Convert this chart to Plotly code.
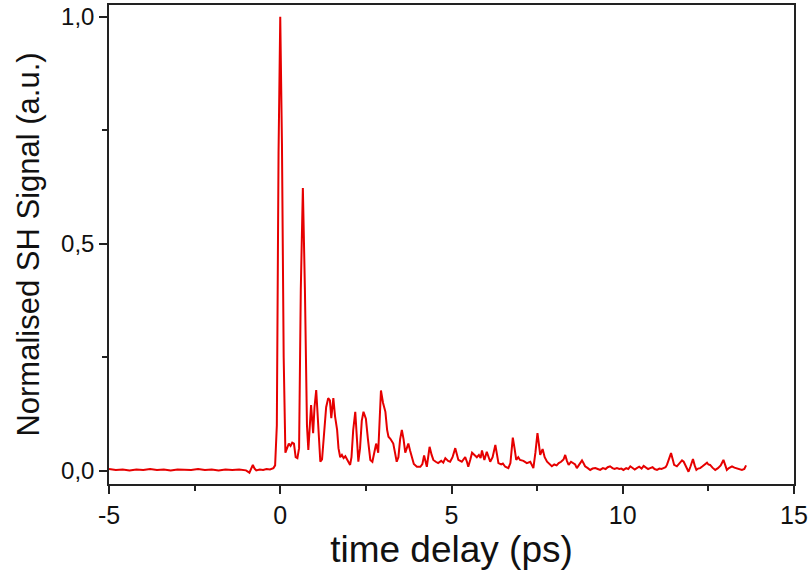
import plotly.graph_objects as go

# time delay (ps) and normalised SH signal
time_delay_ps = [
    -5.0, -4.8, -4.6, -4.4, -4.2, -4.0, -3.8, -3.6, -3.4, -3.2, -3.0, -2.8, -2.6, -2.4,
    -2.2, -2.0, -1.8, -1.6, -1.4, -1.2, -1.0, -0.9, -0.85, -0.8, -0.75, -0.7, -0.6, -0.5,
    -0.4, -0.3, -0.2, -0.15, -0.1, -0.05, 0.0, 0.05, 0.1, 0.15, 0.2, 0.25, 0.3, 0.35,
    0.4, 0.45, 0.5, 0.55, 0.6, 0.66, 0.72, 0.78, 0.82, 0.86, 0.9, 0.96, 1.0, 1.05,
    1.1, 1.17, 1.22, 1.28, 1.34, 1.4, 1.45, 1.49, 1.55, 1.6, 1.66, 1.7, 1.75, 1.8,
    1.85, 1.9, 1.95, 2.0, 2.04, 2.08, 2.13, 2.19, 2.24, 2.28, 2.33, 2.38, 2.43, 2.5,
    2.56, 2.63, 2.69, 2.75, 2.8, 2.86, 2.9, 2.94, 3.0, 3.07, 3.12, 3.16, 3.22, 3.3,
    3.35, 3.4, 3.45, 3.5, 3.55, 3.6, 3.65, 3.7, 3.74, 3.79, 3.84, 3.9, 3.99, 4.09,
    4.15, 4.2, 4.28, 4.32, 4.36, 4.42, 4.47, 4.54, 4.61, 4.7, 4.76, 4.82, 4.9, 4.96,
    5.03, 5.11, 5.16, 5.2, 5.3, 5.4, 5.45, 5.49, 5.55, 5.6, 5.67, 5.74, 5.8, 5.85,
    5.89, 5.96, 6.03, 6.08, 6.13, 6.2, 6.28, 6.33, 6.37, 6.45, 6.5, 6.57, 6.66, 6.72,
    6.79, 6.84, 6.89, 6.95, 7.0, 7.1, 7.2, 7.3, 7.39, 7.45, 7.51, 7.55, 7.59, 7.66,
    7.72, 7.79, 7.86, 7.93, 8.0, 8.07, 8.13, 8.2, 8.27, 8.32, 8.37, 8.42, 8.49, 8.56,
    8.61, 8.66, 8.74, 8.81, 8.86, 8.9, 8.98, 9.05, 9.12, 9.2, 9.27, 9.34, 9.42, 9.5,
    9.56, 9.63, 9.7, 9.76, 9.83, 9.9, 9.96, 10.02, 10.1, 10.16, 10.22, 10.28, 10.35, 10.41,
    10.48, 10.55, 10.61, 10.68, 10.74, 10.8, 10.87, 10.93, 11.0, 11.07, 11.13, 11.19, 11.25, 11.29,
    11.35, 11.41, 11.46, 11.5, 11.58, 11.65, 11.73, 11.78, 11.82, 11.88, 11.92, 11.98, 12.05, 12.1,
    12.15, 12.2, 12.26, 12.33, 12.4, 12.46, 12.5, 12.55, 12.62, 12.7, 12.78, 12.86, 12.94, 12.99,
    13.04, 13.1, 13.19, 13.26, 13.33, 13.4, 13.48, 13.55, 13.6,
]
sh_signal = [
    0.004, 0.002, 0.003, 0.001, 0.003, 0.002, 0.004, 0.002, 0.003, 0.001, 0.003, 0.002, 0.002, 0.004,
    0.002, 0.003, 0.001, 0.003, 0.002, 0.003, 0.001, -0.004, 0.004, 0.013, 0.005, 0.001, 0.003, 0.002,
    0.004, 0.003, 0.006, 0.012, 0.10, 0.70, 1.0, 0.72, 0.25, 0.04, 0.05, 0.06, 0.055, 0.062,
    0.06, 0.03, 0.028, 0.05, 0.40, 0.623, 0.40, 0.10, 0.046, 0.10, 0.145, 0.083, 0.14, 0.178,
    0.10, 0.02, 0.025, 0.08, 0.14, 0.16, 0.155, 0.116, 0.16, 0.12, 0.09, 0.05, 0.03, 0.035,
    0.028, 0.032, 0.025, 0.02, 0.013, 0.03, 0.09, 0.13, 0.07, 0.02, 0.05, 0.11, 0.13, 0.115,
    0.07, 0.024, 0.02, 0.04, 0.06, 0.04, 0.10, 0.177, 0.15, 0.13, 0.09, 0.075, 0.07, 0.06,
    0.04, 0.02, 0.03, 0.07, 0.09, 0.07, 0.04, 0.05, 0.06, 0.045, 0.03, 0.015, 0.009, 0.009,
    0.015, 0.034, 0.009, 0.03, 0.053, 0.035, 0.024, 0.02, 0.017, 0.022, 0.018, 0.028, 0.022, 0.02,
    0.03, 0.05, 0.035, 0.024, 0.02, 0.03, 0.02, 0.009, 0.025, 0.04, 0.035, 0.03, 0.035, 0.028,
    0.045, 0.024, 0.042, 0.03, 0.02, 0.03, 0.057, 0.035, 0.017, 0.014, 0.016, 0.009, 0.006, 0.017,
    0.073, 0.05, 0.024, 0.03, 0.024, 0.022, 0.017, 0.02, 0.006, 0.04, 0.083, 0.06, 0.035, 0.048,
    0.03, 0.02, 0.015, 0.01, 0.014, 0.012, 0.017, 0.02, 0.025, 0.035, 0.022, 0.013, 0.02, 0.017,
    0.014, 0.006, 0.015, 0.023, 0.016, 0.01, 0.006, 0.002, 0.005, 0.006, 0.004, 0.002, 0.006, 0.004,
    0.008, 0.01, 0.006, 0.004, 0.006, 0.004, 0.005, 0.002, 0.006, 0.004, 0.01, 0.006, 0.003, 0.006,
    0.009, 0.005, 0.011, 0.007, 0.004, 0.006, 0.008, 0.004, 0.002, 0.005, 0.004, 0.006, 0.008, 0.013,
    0.025, 0.039, 0.025, 0.013, 0.01, 0.015, 0.023, 0.02, 0.013, 0.005, -0.002, 0.01, 0.026, 0.012,
    0.002, 0.005, 0.006, 0.01, 0.015, 0.018, 0.014, 0.013, 0.007, 0.002, 0.006, 0.012, 0.024, 0.01,
    0.002, 0.006, 0.01, 0.007, 0.005, 0.004, 0.002, 0.004, 0.012,
]

x_ticks = [-5, 0, 5, 10, 15]
x_labels = ["-5", "0", "5", "10", "15"]
y_ticks = [0.0, 0.5, 1.0]

fig = go.Figure()
fig.add_trace(go.Scatter(
    x=time_delay_ps,
    y=sh_signal,
    mode="lines",
    line=dict(color="#e60000", width=2),
    showlegend=False,
))

axis_style = dict(
    showline=True,
    linecolor="#222222",
    linewidth=1.5,
    mirror=True,
    ticks="outside",
    ticklen=8,
    tickwidth=1.5,
    tickcolor="#222222",
    showgrid=False,
    zeroline=False,
    automargin=False,
)

fig.update_xaxes(
    range=[-5, 15],
    tickvals=x_ticks,
    ticktext=x_labels,
    minor=dict(dtick=2.5, ticks="outside", ticklen=5, tickwidth=1.5, tickcolor="#222222"),
    tickfont=dict(size=25, color="#111111"),
    title=dict(text="time delay (ps)", font=dict(size=37, color="#111111"), standoff=5),
    **axis_style,
)
fig.update_yaxes(
    range=[-0.029, 1.026],
    tickvals=y_ticks,
    tickformat=".1f",
    minor=dict(dtick=0.25, ticks="outside", ticklen=5, tickwidth=1.5, tickcolor="#222222"),
    tickfont=dict(size=24, color="#111111"),
    title=dict(text="Normalised SH Signal (a.u.)", font=dict(size=31, color="#111111"), standoff=12),
    **axis_style,
)

fig.update_layout(
    width=808,
    height=572,
    margin=dict(l=109, r=14, t=5, b=88),
    paper_bgcolor="white",
    plot_bgcolor="white",
    separators=",.",
    font=dict(family="Liberation Sans, Arial, sans-serif"),
)

# page body has a default 8px margin; drop it so the figure sits at the window corner
fig.write_html(
    "out.html",
    config={"displayModeBar": False},
    post_script="document.body.style.margin='0';",
)
